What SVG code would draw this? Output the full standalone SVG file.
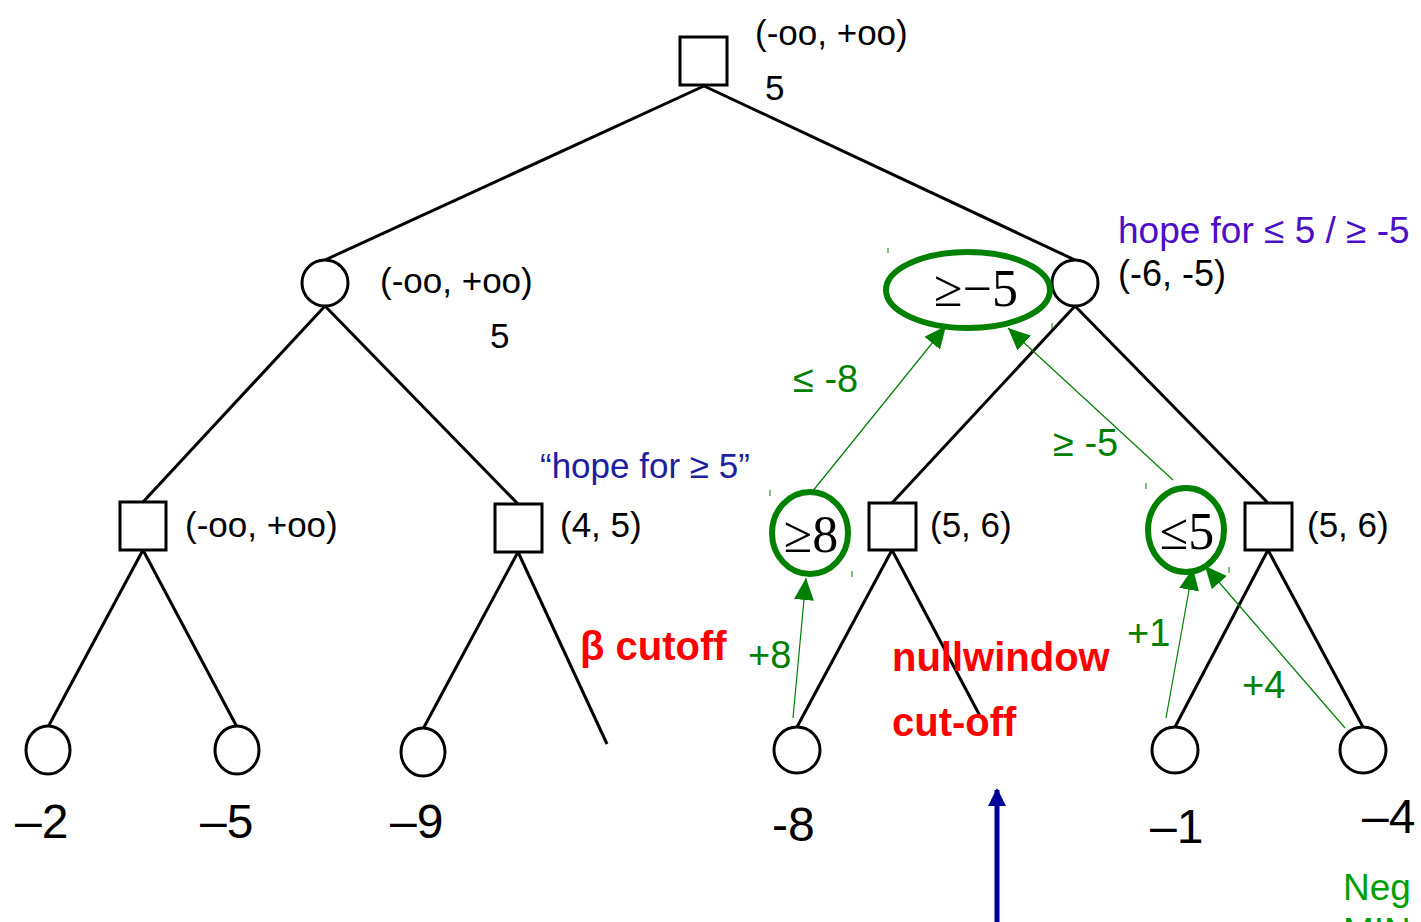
<svg xmlns="http://www.w3.org/2000/svg" width="1421" height="922" viewBox="0 0 1421 922">
<defs>
<style>
.edge{stroke:#000;stroke-width:3;fill:none}
.node{fill:#fff;stroke:#000;stroke-width:3}
.lbl{font-family:"Liberation Sans",Arial,sans-serif;font-size:35px;fill:#000}
.leaf{font-family:"Liberation Sans",Arial,sans-serif;font-size:48px;fill:#000}
.g{font-family:"Liberation Sans",Arial,sans-serif;font-size:38px;fill:#008000}
.red{font-family:"Liberation Sans",Arial,sans-serif;font-size:40px;font-weight:bold;fill:#ff0000}
.math{font-family:"Liberation Serif","Times New Roman",serif;font-size:52px;fill:#000}
.gring{fill:none;stroke:#008000;stroke-width:6}
.garrow{stroke:#008000;stroke-width:1.2;fill:none;marker-end:url(#gh)}
.tick{stroke:#008000;stroke-width:1}
</style>
<marker id="gh" markerUnits="userSpaceOnUse" markerWidth="24" markerHeight="24" refX="22" refY="10" orient="auto">
<path d="M0,0 L22,10 L0,20 Z" fill="#008000"/>
</marker>
<marker id="bh" markerUnits="userSpaceOnUse" markerWidth="20" markerHeight="20" refX="16" refY="9" orient="auto">
<path d="M0,0 L18,9 L0,18 Z" fill="#00009c"/>
</marker>
</defs>

<g id="connectors">
<line class="edge" x1="704" y1="86" x2="325" y2="260"/>
<line class="edge" x1="704" y1="86" x2="1075" y2="260"/>
<line class="edge" x1="325" y1="306" x2="143" y2="502"/>
<line class="edge" x1="325" y1="306" x2="518" y2="504"/>
<line class="edge" x1="1075" y1="306" x2="892" y2="503"/>
<line class="edge" x1="1075" y1="306" x2="1268" y2="503"/>
<line class="edge" x1="143" y1="550" x2="48" y2="727"/>
<line class="edge" x1="143" y1="550" x2="237" y2="727"/>
<line class="edge" x1="518" y1="552" x2="423" y2="729"/>
<line class="edge" x1="518" y1="552" x2="607" y2="744"/>
<line class="edge" x1="892" y1="550" x2="797" y2="727"/>
<line class="edge" x1="892" y1="550" x2="980" y2="716"/>
<line class="edge" x1="1268" y1="550" x2="1175" y2="727"/>
<line class="edge" x1="1268" y1="550" x2="1363" y2="727"/>
</g>

<g id="root">
<rect class="node" x="680" y="37" width="47" height="48"/>
<text class="lbl" x="755" y="45">(-oo, +oo)</text>
<text class="lbl" x="765" y="100">5</text>
</g>

<g id="n-left">
<circle class="node" cx="325" cy="283" r="23"/>
<text class="lbl" x="380" y="293">(-oo, +oo)</text>
<text class="lbl" x="490" y="348">5</text>
</g>

<g id="n-right">
<circle class="node" cx="1075" cy="283" r="23"/>
<text class="lbl" x="1118" y="243" style="fill:#4b0fc8;font-size:37px">hope for ≤ 5 / ≥ -5</text>
<text class="lbl" x="1118" y="286" style="font-size:36px">(-6, -5)</text>
</g>

<g id="sq1">
<rect class="node" x="120" y="502" width="46" height="48"/>
<text class="lbl" x="185" y="537">(-oo, +oo)</text>
</g>
<g id="sq2">
<rect class="node" x="495" y="504" width="47" height="48"/>
<text class="lbl" x="560" y="537">(4, 5)</text>
<text class="lbl" x="540" y="478" style="fill:#1e1ea0;font-size:35px">“hope for ≥ 5”</text>
</g>
<g id="sq3">
<rect class="node" x="869" y="503" width="47" height="47"/>
<text class="lbl" x="930" y="537">(5, 6)</text>
</g>
<g id="sq4">
<rect class="node" x="1245" y="503" width="47" height="47"/>
<text class="lbl" x="1307" y="537">(5, 6)</text>
</g>

<g id="leaf1"><ellipse class="node" cx="48" cy="750" rx="22" ry="24"/><text class="leaf" x="15" y="838">–2</text></g>
<g id="leaf2"><ellipse class="node" cx="237" cy="750" rx="22" ry="24"/><text class="leaf" x="200" y="838">–5</text></g>
<g id="leaf3"><ellipse class="node" cx="423" cy="752" rx="22" ry="24"/><text class="leaf" x="390" y="838">–9</text></g>
<g id="leaf4"><circle class="node" cx="797" cy="750" r="23"/><text class="leaf" x="772" y="841">-8</text></g>
<g id="leaf5"><circle class="node" cx="1175" cy="750" r="23"/><text class="leaf" x="1150" y="843">–1</text></g>
<g id="leaf6"><circle class="node" cx="1363" cy="750" r="23"/><text class="leaf" x="1362" y="833">–4</text></g>

<g id="annot-ge-5">
<ellipse class="gring" cx="968" cy="290" rx="82" ry="38"/>
<text class="math" x="976" y="306" text-anchor="middle">≥−5</text>
</g>
<g id="annot-ge8">
<ellipse class="gring" cx="810" cy="533" rx="38" ry="41"/>
<text class="math" x="811" y="552" text-anchor="middle">≥8</text>
</g>
<g id="annot-le5">
<ellipse class="gring" cx="1186" cy="530" rx="38" ry="42"/>
<text class="math" x="1187" y="549" text-anchor="middle">≤5</text>
</g>

<g id="green-arrows">
<line class="garrow" x1="793" y1="718" x2="806" y2="578"/>
<line class="garrow" x1="812" y1="492" x2="946" y2="326"/>
<line class="garrow" x1="1173" y1="480" x2="1008" y2="328"/>
<line class="garrow" x1="1166" y1="718" x2="1193" y2="568"/>
<line class="garrow" x1="1345" y1="728" x2="1205" y2="566"/>
<text class="g" x="748" y="668">+8</text>
<text class="g" x="793" y="392">≤ -8</text>
<text class="g" x="1053" y="456">≥ -5</text>
<text class="g" x="1127" y="646">+1</text>
<text class="g" x="1242" y="698">+4</text>
<line class="tick" x1="888" y1="248" x2="888" y2="253"/>
<line class="tick" x1="1052" y1="323" x2="1052" y2="329"/>
<line class="tick" x1="770" y1="490" x2="770" y2="496"/>
<line class="tick" x1="852" y1="571" x2="852" y2="577"/>
<line class="tick" x1="1146" y1="483" x2="1146" y2="489"/>
<line class="tick" x1="1229" y1="567" x2="1229" y2="573"/>
</g>

<g id="cutoff-labels">
<text class="red" x="580" y="660">β cutoff</text>
<text class="red" x="892" y="671">nullwindow</text>
<text class="red" x="892" y="736">cut-off</text>
</g>

<g id="blue-arrow">
<line x1="997" y1="922" x2="997" y2="790" stroke="#00009c" stroke-width="5" marker-end="url(#bh)"/>
</g>

<g id="neg-note">
<text x="1343" y="900" style="font-family:'Liberation Sans',Arial,sans-serif;font-size:37px;fill:#00a000">Neg</text>
<text x="1343" y="944" style="font-family:'Liberation Sans',Arial,sans-serif;font-size:37px;fill:#00a000">MIN</text>
</g>
</svg>
